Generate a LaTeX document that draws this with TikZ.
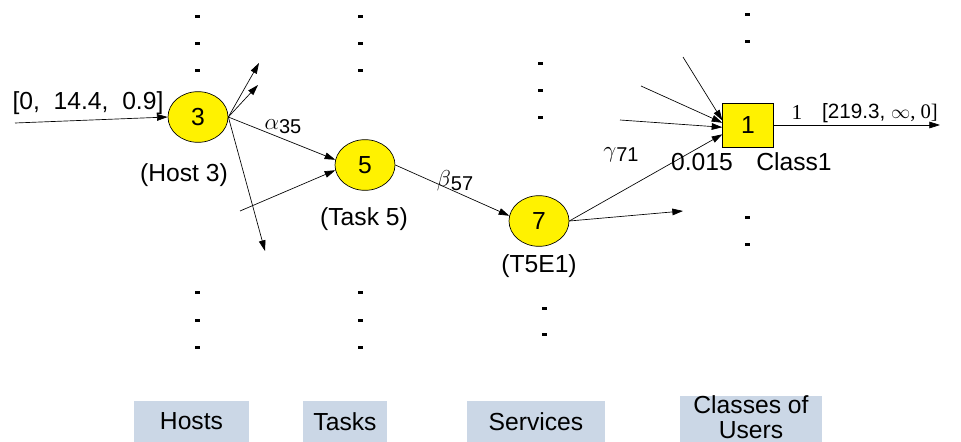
\documentclass[tikz,border=0pt]{standalone}
\usepackage{fontspec}
\setmainfont{Liberation Sans}
\newfontfamily\timesfont{Liberation Serif}
\usetikzlibrary{arrows.meta, shapes.geometric}
\definecolor{layerblue}{HTML}{CBD7E6}
\newcommand{\greeksub}[2]{{\timesfont\fontsize{19}{19}\selectfont$#1$}\raisebox{-3pt}{\fontsize{15}{15}\selectfont #2}}

\begin{document}
\begin{tikzpicture}[
    x = 0.75pt, y = -0.75pt,
    font = \fontsize{18.5}{20}\selectfont,
    arc/.style = {line width = 0.5pt, -{Triangle[length = 8pt, width = 5pt]}},
    entity/.style = {ellipse, draw, line width = 0.5pt, fill = yellow,
      minimum width = 45pt, minimum height = 38pt, inner sep = 0pt},
    userclass/.style = {rectangle, draw, line width = 0.5pt, fill = yellow,
      minimum width = 38pt, minimum height = 33pt, inner sep = 0pt},
    layer/.style = {fill = layerblue, inner sep = 0pt, align = center,
      font = \fontsize{18.5}{18.5}\selectfont}
  ]
  \useasboundingbox (0, 0) rectangle (961, 442);
  % nodes
  \node[entity]    (h3) at (198, 117) {3};
  \node[entity]    (t5) at (365, 165) {5};
  \node[entity]    (s7) at (539, 221) {7};
  \node[userclass] (c1) at (748, 125) {1};
  % names under the nodes
  \node (h3name) at (184, 175) {(Host 3)};
  \node (t5name) at (364, 219) {(Task 5)};
  \node (s7name) at (539, 266) {(T5E1)};
  \node (c1name) at (794, 162) {Class1};
  % free ends
  \coordinate (in0)  at (15, 123);
  \coordinate (hup1) at (259, 63);
  \coordinate (hup2) at (258, 85);
  \coordinate (hdn)  at (265, 251);
  \coordinate (tin)  at (240, 211);
  \coordinate (sout) at (683, 211);
  \coordinate (cin1) at (683, 57);
  \coordinate (cin2) at (641, 86);
  \coordinate (cin3) at (620, 120);
  \coordinate (cout) at (940, 125);
  % into and out of the host
  \draw[arc] (in0) -- (h3.west);
  \node (inlabel) at (88, 103) {[0,\ \ 14.4,\ \ 0.9]};
  \draw[arc] (h3.east) -- (hup1);
  \draw[arc] (h3.east) -- (hup2);
  \draw[arc] (h3.east) -- (hdn);
  \draw[arc] (h3.east) -- (t5.170);
  \node (alpha) at (283, 127) {\greeksub{\alpha}{35}};
  % task to service
  \draw[arc] (tin) -- (t5.190);
  \draw[arc] (t5.east) -- (s7.170);
  \node (beta) at (455, 181) {\greeksub{\beta}{57}};
  % service to class
  \draw[arc] (s7.east) -- (sout);
  \draw[arc] (s7.east) -- (c1.200);
  \node (gamma) at (621, 155) {\greeksub{\gamma}{71}};
  \node (prob) at (702, 162) {0.015};
  \draw[arc] (cin1) -- (c1.170);
  \draw[arc] (cin2) -- (c1.175);
  \draw[arc] (cin3) -- (c1.185);
  % out of the class
  \draw[arc] (c1.east) -- (cout);
  \node[font = \fontsize{16}{17}\selectfont] (one) at (797, 112) {\timesfont 1};
  \node[font = \fontsize{15.5}{17}\selectfont] (outlabel) at (880, 113) {[219.3, {\timesfont$\infty$, 0]}};
  % the dots of each layer
  \foreach \cx/\cy in {197/17, 197/44, 197/71, 197/293, 197/320, 197/347,
                       360/17, 360/44, 360/71, 360/293, 360/320, 360/347,
                       540/64, 540/91, 540/118, 544/308, 544/334,
                       747/15, 747/42, 747/218, 747/245}
    \fill (\cx - 2.5, \cy - 1.5) rectangle (\cx + 2.5, \cy + 1.5);
  % layers
  \node[layer, minimum width = 86pt, minimum height = 31pt] (hosts)    at (191.5, 421.5) {Hosts};
  \node[layer, minimum width = 63pt, minimum height = 31pt] (tasks)    at (345, 421.5) {Tasks};
  \node[layer, minimum width = 103pt, minimum height = 31pt] (services) at (536, 421.5) {Services};
  \fill[layerblue] (680, 396) rectangle (822, 442);
  \node[layer, fill = none] (classes) at (751, 417) {Classes of\\Users};
\end{tikzpicture}
\end{document}
